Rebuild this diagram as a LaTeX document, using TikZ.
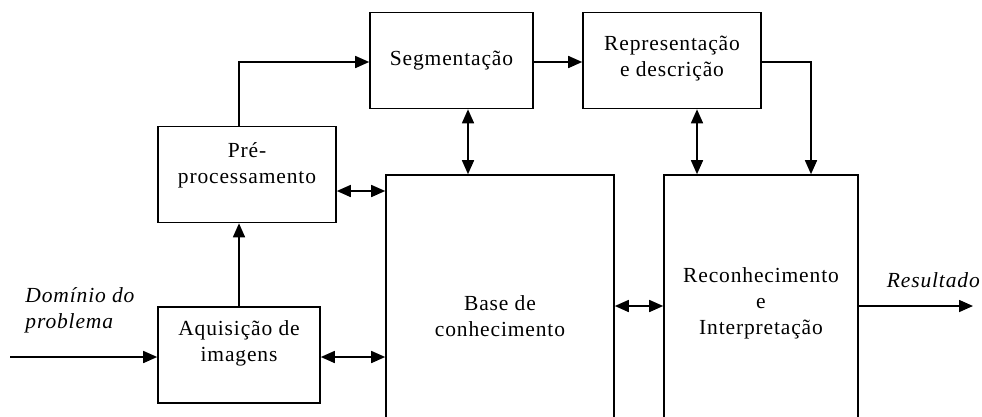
\documentclass[tikz,border=0pt]{standalone}
\usepackage{fontspec}
\setmainfont[LetterSpace=4]{Liberation Serif}
\usetikzlibrary{arrows.meta}
\tikzset{
  box/.style={draw, line width=1.6pt, inner sep=0pt},
  txt/.style={align=center, font=\fontsize{21.5}{26}\selectfont, inner sep=0pt},
  itx/.style={align=left, font=\fontsize{21.5}{26}\selectfont\itshape, inner sep=0pt},
  arr/.style={line width=1.6pt, -{Triangle[length=14pt,width=12pt]}},
  darr/.style={line width=1.6pt, {Triangle[length=14pt,width=12pt]}-{Triangle[length=14pt,width=12pt]}}
}
\begin{document}
\begin{tikzpicture}[x=1pt,y=-1pt]
\clip (0,0) rectangle (982,416);
\fill[white] (0,0) rectangle (982,416);
% boxes
\node[box, minimum width=163pt, minimum height=96pt] (seg) at (451.5,60.5) {};
\node[box, minimum width=178pt, minimum height=96pt] (rep) at (672,60.5) {};
\node[box, minimum width=178pt, minimum height=96pt] (pre) at (247,174.5) {};
\node[box, minimum width=162pt, minimum height=96pt] (aq) at (239,355) {};
\node[box, minimum width=228pt, minimum height=262pt] (base) at (500,306) {};
\node[box, minimum width=194pt, minimum height=262pt] (recon) at (761,306) {};
% texts
\node[txt] (tseg) at (seg.center) {Segmenta\c{c}\~ao};
\node[txt] (trep) at (672,59) {Representa\c{c}\~ao\\e descri\c{c}\~ao};
\node[txt] (tpre) at (247,165) {Pr\'e-\\processamento};
\node[txt] (taq) at (239,343) {Aquisi\c{c}\~ao de\\imagens};
\node[txt] (tbase) at (500,316) {Base de\\conhecimento};
\node[txt] (trec) at (761,303) {Reconhecimento\\e\\Interpreta\c{c}\~ao};
\node[itx] (tdom) at (80,310) {Dom\'{\i}nio do\\problema};
\node[itx, anchor=east] (tres) at (980,280) {Resultado};
% connectors
\coordinate (in) at (10,357);
\coordinate (out) at (973,306);
\draw[arr] (in) -- (in -| aq.west);
\draw[arr] (recon.east) -- (out);
\draw[arr] (aq.north) -- (aq.north |- pre.south);
\draw[arr] (pre.north -| aq.north) |- ([yshift=-1.5pt]seg.west);
\draw[arr] ([yshift=-1.5pt]seg.east) -- ([yshift=-1.5pt]rep.west);
\draw[arr] ([yshift=-1.5pt]rep.east) -| ([xshift=50pt]recon.north);
\draw[darr] ([xshift=16.5pt]seg.south) -- ([xshift=16.5pt]seg.south |- base.north);
\draw[darr] ([xshift=25pt]rep.south) -- ([xshift=25pt]rep.south |- recon.north);
\draw[darr] ([yshift=-16.5pt]pre.east) -- ([yshift=-16.5pt]pre.east -| base.west);
\draw[darr] ([yshift=-2pt]aq.east) -- ([yshift=-2pt]aq.east -| base.west);
\draw[darr] (base.east) -- (recon.west);
\end{tikzpicture}
\end{document}
